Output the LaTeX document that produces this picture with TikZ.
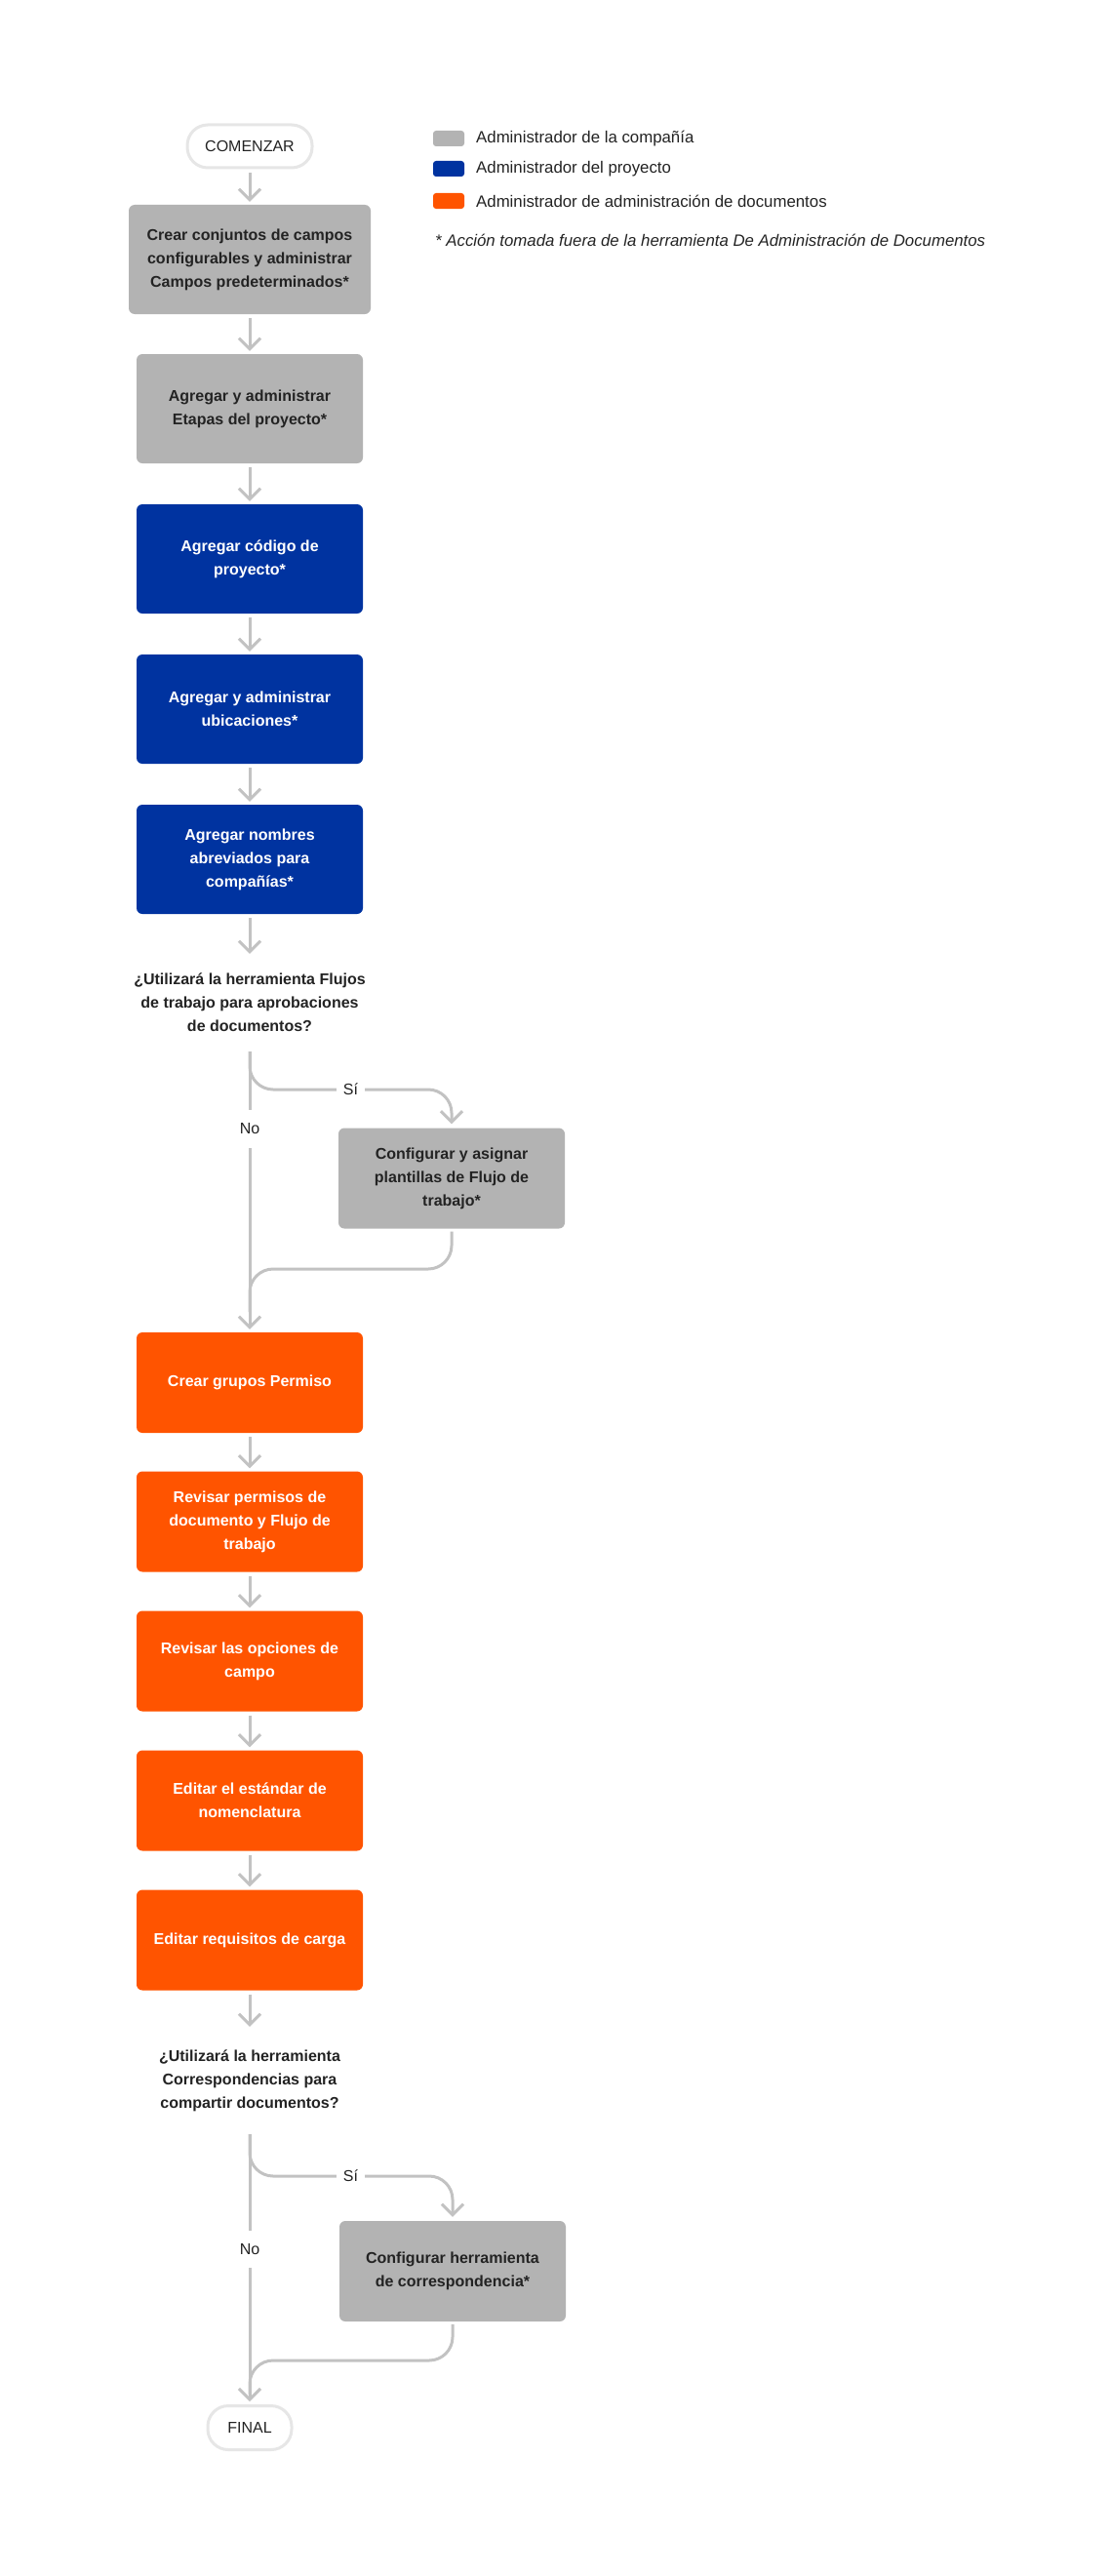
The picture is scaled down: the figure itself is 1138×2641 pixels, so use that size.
\documentclass[tikz,border=0pt]{standalone}
\usepackage{fontspec}
\setmainfont{Liberation Sans}
\usetikzlibrary{arrows.meta}
\definecolor{boxgray}{HTML}{B3B3B3}
\definecolor{boxblue}{HTML}{0033A0}
\definecolor{boxorange}{HTML}{FF5400}
\definecolor{lineg}{HTML}{C2C2C2}
\definecolor{pillb}{HTML}{E6E6E6}
\definecolor{txt}{HTML}{232323}
\begin{document}
\begin{tikzpicture}[x=1pt,y=-1pt,
 base/.style={font=\fontsize{16}{24}\selectfont, align=center, inner sep=0pt},
 legendtext/.style={base, anchor=west, text=txt, font=\fontsize{16.8}{24}\selectfont},
 stepbox/.style={base, font=\fontsize{16}{24}\selectfont\bfseries, rounded corners=6pt, minimum width=232pt, minimum height=112pt},
 graybox/.style={stepbox, fill=boxgray, text=txt},
 bluebox/.style={stepbox, fill=boxblue, text=white},
 orangebox/.style={stepbox, fill=boxorange, text=white, minimum height=103pt},
 pill/.style={base, text=txt, draw=pillb, line width=3pt, fill=white, rounded corners=21pt, minimum height=44pt},
 question/.style={base, font=\fontsize{16}{24}\selectfont\bfseries, text=txt},
 lbl/.style={base, text=txt, fill=white},
 conn/.style={draw=lineg, line width=3pt},
 arr/.style={conn, -{Straight Barb[length=11pt,width=22pt]}},
 swatch/.style={rounded corners=3pt, minimum width=32pt, minimum height=16pt, inner sep=0pt},
]
\useasboundingbox (0,0) rectangle (1138,2641);

% legend
\node[swatch, fill=boxgray] (s1) at (460,142) {};
\node[swatch, fill=boxblue] (s2) at (460,173) {};
\node[swatch, fill=boxorange] (s3) at (460,206) {};
\node[legendtext] (l1) at (488,142) {Administrador de la compañía};
\node[legendtext] (l2) at (488,173) {Administrador del proyecto};
\node[legendtext] (l3) at (488,206) {Administrador de administración de documentos};
\node[legendtext, font=\fontsize{16.8}{24}\selectfont\itshape] (fn) at (446,246) {* Acción tomada fuera de la herramienta De Administración de Documentos};

% main column
\node[pill, minimum width=128pt] (start) at (256,150) {COMENZAR};
\node[graybox, minimum width=248pt] (b1) at (256,266) {Crear conjuntos de campos\\configurables y administrar\\Campos predeterminados*};
\node[graybox] (b2) at (256,419) {Agregar y administrar\\Etapas del proyecto*};
\node[bluebox] (b3) at (256,573) {Agregar código de\\proyecto*};
\node[bluebox] (b4) at (256,727) {Agregar y administrar\\ubicaciones*};
\node[bluebox] (b5) at (256,881) {Agregar nombres\\abreviados para\\compañías*};
\node[question, minimum height=100pt] (q1) at (256,1028) {¿Utilizará la herramienta Flujos\\de trabajo para aprobaciones\\de documentos?};
\node[lbl, minimum width=30pt, minimum height=39pt] (no1) at (256,1157.5) {No};
\node[lbl, minimum width=29pt, minimum height=20pt] (si1) at (359.5,1117) {Sí};
\node[graybox, minimum height=103pt] (c1) at (463,1208) {Configurar y asignar\\plantillas de Flujo de\\trabajo*};
\coordinate (m1) at (256,1301);
\coordinate (m1b) at (256,1345);
\node[orangebox] (p1) at (256,1417.5) {Crear grupos Permiso};
\node[orangebox] (p2) at (256,1560) {Revisar permisos de\\documento y Flujo de\\trabajo};
\node[orangebox] (p3) at (256,1703) {Revisar las opciones de\\campo};
\node[orangebox] (p4) at (256,1846) {Editar el estándar de\\nomenclatura};
\node[orangebox] (p5) at (256,1989) {Editar requisitos de carga};
\node[question, minimum height=110pt] (q2) at (256,2133) {¿Utilizará la herramienta\\Correspondencias para\\compartir documentos?};
\node[lbl, minimum width=30pt, minimum height=38pt] (no2) at (256,2306) {No};
\node[lbl, minimum width=29pt, minimum height=20pt] (si2) at (359.5,2231) {Sí};
\node[graybox, minimum height=103pt] (c2) at (464,2328.5) {Configurar herramienta\\de correspondencia*};
\coordinate (m2) at (256,2420);
\coordinate (m2b) at (256,2455);
\node[pill, minimum width=86pt, minimum height=45pt] (fin) at (256,2489) {FINAL};

% connectors
\draw[arr, shorten <=4pt, shorten >=3pt] (start) -- (b1);
\draw[arr, shorten <=4pt, shorten >=3pt] (b1) -- (b2);
\draw[arr, shorten <=4pt, shorten >=3pt] (b2) -- (b3);
\draw[arr, shorten <=4pt, shorten >=3pt] (b3) -- (b4);
\draw[arr, shorten <=4pt, shorten >=3pt] (b4) -- (b5);
\draw[arr, shorten <=4pt] (b5) -- (q1);

\draw[conn] (q1.south) -- (no1.north);
\draw[conn, rounded corners=24pt] (q1.south) |- (si1.west);
\draw[arr, rounded corners=24pt, shorten >=4pt] (si1.east) -| (c1.north);
\draw[arr, shorten >=3pt] (no1.south) -- (p1.north);
\draw[conn, rounded corners=24pt, shorten <=3pt] (c1.south) |- (m1) -- (m1b);

\draw[arr, shorten <=4pt, shorten >=3pt] (p1) -- (p2);
\draw[arr, shorten <=4pt, shorten >=3pt] (p2) -- (p3);
\draw[arr, shorten <=4pt, shorten >=3pt] (p3) -- (p4);
\draw[arr, shorten <=4pt, shorten >=3pt] (p4) -- (p5);
\draw[arr, shorten <=4pt] (p5) -- (q2);

\draw[conn] (q2.south) -- (no2.north);
\draw[conn, rounded corners=24pt] (q2.south) |- (si2.west);
\draw[arr, rounded corners=24pt, shorten >=4pt] (si2.east) -| (c2.north);
\draw[arr, shorten >=3pt] (no2.south) -- (fin.north);
\draw[conn, rounded corners=24pt, shorten <=3pt] (c2.south) |- (m2) -- (m2b);
\end{tikzpicture}
\end{document}
